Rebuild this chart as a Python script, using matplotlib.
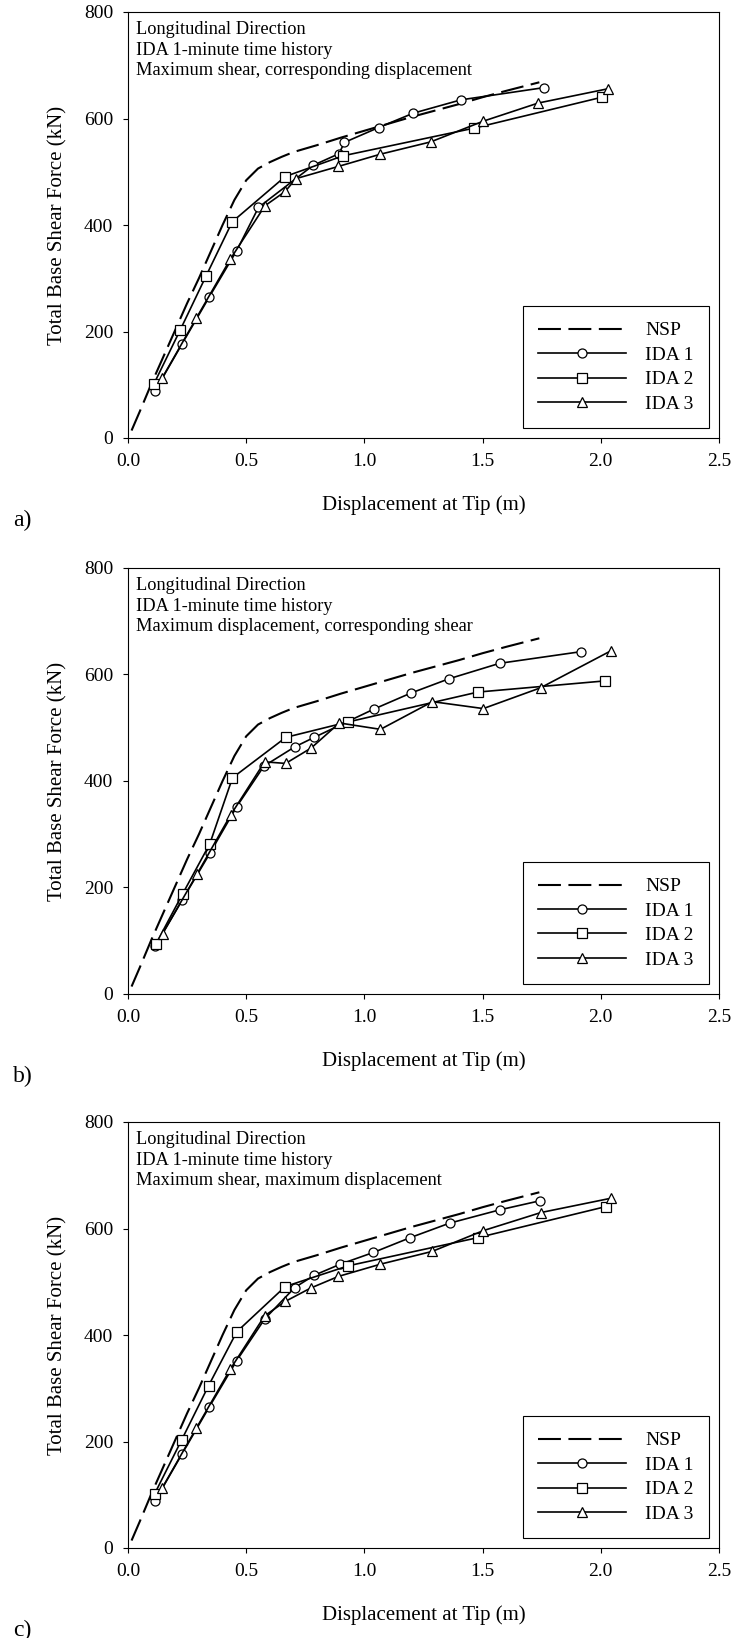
import numpy as np
import matplotlib
matplotlib.use("Agg")
import matplotlib.pyplot as plt

plt.rcParams["font.family"] = ["Liberation Serif", "DejaVu Serif"]

# pushover (NSP) curve, same in every panel
nsp_x = [0.015, 0.05, 0.10, 0.15, 0.20, 0.25, 0.30, 0.35, 0.40, 0.45, 0.50, 0.55,
         0.60, 0.65, 0.70, 0.80, 0.90, 1.00, 1.10, 1.20, 1.30, 1.40, 1.50, 1.60, 1.74]
nsp_y = [14, 50, 103, 153, 203, 253, 300, 350, 400, 447, 484, 506,
         518, 528, 537, 550, 564, 577, 590, 603, 615, 627, 640, 652, 668]

# a) maximum shear, corresponding displacement
a_ida1_x = [0.115, 0.229, 0.344, 0.460, 0.552, 0.783, 0.893, 0.915, 1.060, 1.207, 1.408, 1.760]
a_ida1_y = [89, 177, 265, 352, 433, 512, 534, 555, 583, 610, 635, 658]
a_ida2_x = [0.110, 0.221, 0.331, 0.441, 0.665, 0.910, 1.465, 2.005]
a_ida2_y = [102, 203, 305, 406, 491, 530, 582, 640]
a_ida3_x = [0.145, 0.289, 0.433, 0.579, 0.665, 0.710, 0.890, 1.068, 1.280, 1.503, 1.735, 2.032]
a_ida3_y = [113, 225, 336, 436, 463, 487, 510, 533, 556, 595, 629, 656]

# b) maximum displacement, corresponding shear
b_ida1_x = [0.115, 0.230, 0.346, 0.460, 0.575, 0.705, 0.788, 1.040, 1.196, 1.358, 1.572, 1.918]
b_ida1_y = [90, 177, 264, 352, 428, 464, 482, 535, 565, 592, 621, 643]
b_ida2_x = [0.117, 0.231, 0.346, 0.442, 0.668, 0.932, 1.480, 2.018]
b_ida2_y = [93, 188, 282, 406, 482, 511, 567, 588]
b_ida3_x = [0.146, 0.293, 0.434, 0.578, 0.667, 0.775, 0.894, 1.068, 1.288, 1.503, 1.745, 2.045]
b_ida3_y = [113, 226, 336, 436, 433, 462, 509, 497, 549, 536, 575, 645]

# c) maximum shear, maximum displacement
c_ida1_x = [0.115, 0.229, 0.344, 0.460, 0.578, 0.705, 0.787, 0.898, 1.038, 1.195, 1.360, 1.572, 1.742]
c_ida1_y = [89, 177, 265, 352, 430, 489, 512, 533, 555, 583, 610, 635, 652]
c_ida2_x = [0.113, 0.227, 0.341, 0.460, 0.665, 0.932, 1.482, 2.020]
c_ida2_y = [102, 203, 305, 406, 491, 530, 583, 641]
c_ida3_x = [0.145, 0.289, 0.433, 0.578, 0.665, 0.772, 0.890, 1.068, 1.287, 1.503, 1.747, 2.045]
c_ida3_y = [113, 225, 336, 436, 463, 488, 510, 533, 557, 596, 630, 657]

panels = [
    ("a)", "Maximum shear, corresponding displacement",
     (a_ida1_x, a_ida1_y), (a_ida2_x, a_ida2_y), (a_ida3_x, a_ida3_y)),
    ("b)", "Maximum displacement, corresponding shear",
     (b_ida1_x, b_ida1_y), (b_ida2_x, b_ida2_y), (b_ida3_x, b_ida3_y)),
    ("c)", "Maximum shear, maximum displacement",
     (c_ida1_x, c_ida1_y), (c_ida2_x, c_ida2_y), (c_ida3_x, c_ida3_y)),
]

W, H = 735, 1638
fig = plt.figure(figsize=(W / 100, H / 100), dpi=100)

ax_left, ax_right = 128, 719
ax_tops = [12, 568, 1122]
ax_h = 426

for (tag, case, ida1, ida2, ida3), top in zip(panels, ax_tops):
    bottom = top + ax_h
    ax = fig.add_axes([ax_left / W, 1 - bottom / H, (ax_right - ax_left) / W, ax_h / H])

    ax.plot(nsp_x, nsp_y, color="black", lw=1.5, dashes=(11, 3.6), label="NSP")
    mk = dict(color="black", lw=1.2, markersize=6.5, markerfacecolor="white",
              markeredgecolor="black", markeredgewidth=0.9)
    ax.plot(*ida1, marker="o", label="IDA 1", **mk)
    ax.plot(*ida2, marker="s", label="IDA 2", **mk)
    ax.plot(*ida3, marker="^", label="IDA 3", **mk)

    ax.set_xlim(0, 2.5)
    ax.set_ylim(0, 800)
    ax.set_xticks(np.arange(0, 2.51, 0.5))
    ax.set_yticks(np.arange(0, 801, 200))
    ax.set_xticklabels(["%.1f" % v for v in np.arange(0, 2.51, 0.5)])
    ax.tick_params(direction="out", length=3.6, width=0.8, labelsize=14, pad=7)
    for sp in ax.spines.values():
        sp.set_linewidth(0.8)

    ax.set_xlabel("Displacement at Tip (m)", fontsize=15)
    ax.set_ylabel("Total Base Shear Force (kN)", fontsize=15)
    ax.xaxis.label.set_va("center")
    ax.yaxis.label.set_va("center")
    ax.xaxis.set_label_coords(0.5, -(505 - 438) / ax_h)
    ax.yaxis.set_label_coords(-(128 - 58) / (ax_right - ax_left), 0.5)

    ax.text(0.014, 0.978,
            "Longitudinal Direction\nIDA 1-minute time history\n" + case,
            transform=ax.transAxes, ha="left", va="top", fontsize=13.2, linespacing=1.25)

    leg = ax.legend(loc="lower right", fontsize=14, handlelength=4.5, handletextpad=1.0,
                    borderaxespad=0.5, labelspacing=0.35, borderpad=0.8, fancybox=False,
                    framealpha=1, edgecolor="black")
    leg.get_frame().set_linewidth(0.8)

    fig.text(13 / W, 1 - (bottom + 82) / H, tag, ha="left", va="center", fontsize=17)

fig.savefig("out.png", dpi=100)
